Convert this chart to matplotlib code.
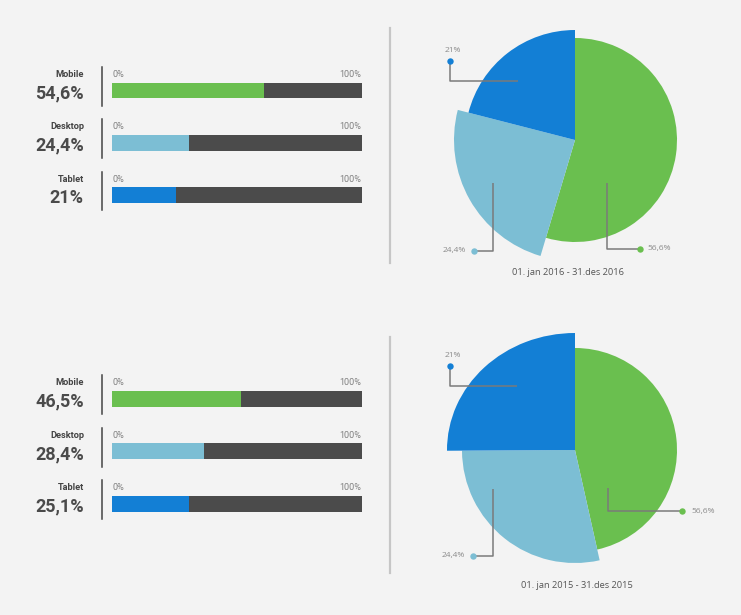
import matplotlib
matplotlib.use("Agg")
import matplotlib.pyplot as plt
from matplotlib.transforms import Affine2D

W, H = 741, 615
BG = "#f3f3f3"
VERT = "#6abf4f"
LYSBLA = "#7cbed4"
BLA = "#137fd5"
MORK = "#4b4b4b"

# Données
kategorier = ["Mobile", "Desktop", "Tablet"]
etiketter_2016 = ["54,6%", "24,4%", "21%"]
etiketter_2015 = ["46,5%", "28,4%", "25,1%"]
# longueur remplie des barres (en %)
remplissage_2016 = [61.0, 30.7, 25.7]
remplissage_2015 = [51.6, 36.8, 30.8]
# parts du camembert (sens horaire depuis le haut)
parts_2016 = [54.6, 24.4, 21.0]
parts_2015 = [46.5, 28.4, 25.1]
# rayons (x, y) de chaque part, en pixels
rayons_2016 = [(102, 102), (121, 121), (110, 110)]
rayons_2015 = [(102, 102), (113, 113), (128, 117)]
etiquettes_camembert = ["56,6%", "24,4%", "21%"]
periode_2016 = "01. jan 2016 - 31.des 2016"
periode_2015 = "01. jan 2015 - 31.des 2015"
couleurs = [VERT, LYSBLA, BLA]


def rect(x0, y0, x1, y1):
    """Rectangle en pixels (origine en haut à gauche) -> coordonnées figure"""
    return [x0 / W, 1 - y1 / H, (x1 - x0) / W, (y1 - y0) / H]


fig = plt.figure(figsize=(W / 100, H / 100), dpi=100)
fig.patch.set_facecolor(BG)

# Lignes de séparation verticales
fond = fig.add_axes([0, 0, 1, 1])
fond.set_xlim(0, W)
fond.set_ylim(H, 0)
fond.axis("off")
fond.plot([390, 390], [28, 263], color="#c6c6c6", lw=1.6)
fond.plot([390, 390], [337, 573], color="#c6c6c6", lw=1.6)


def tracer_barres(centre_y, etiquettes, remplissage):
    pas = 52.4
    ax = fig.add_axes(rect(112.3, centre_y - pas / 2, 361.6, centre_y + 2 * pas + pas / 2))
    ax.set_xlim(0, 100)
    ax.set_ylim(2.5, -0.5)
    ax.axis("off")
    pos = range(len(kategorier))
    ax.barh(pos, [100] * 3, height=0.305, color=MORK, linewidth=0)
    ax.barh(pos, remplissage, height=0.305, color=couleurs, linewidth=0)
    for i, (cat, lab) in enumerate(zip(kategorier, etiquettes)):
        ax.text(0, i - 0.31, "0%", ha="left", va="center", fontsize=6.5,
                color="#808080", family="Roboto")
        ax.text(100, i - 0.31, "100%", ha="right", va="center", fontsize=6.5,
                color="#808080", family="Roboto")
        ax.text(-11.35, i - 0.31, cat, ha="right", va="center", fontsize=6.7,
                fontweight="bold", color="#444444", family="Roboto")
        ax.text(-11.5, i + 0.05, lab, ha="right", va="center", fontsize=13,
                fontweight="bold", color="#4a4a4a", family="Roboto")
        ax.plot([-4.0, -4.0], [i - 0.45, i + 0.29], color="#444444", lw=1.1,
                clip_on=False)


def tracer_camembert(cx, cy, parts, rayons, reperes, titre, titre_xy):
    ax = fig.add_axes(rect(cx - 160, cy - 160, cx + 160, cy + 160))
    for i in range(len(parts)):
        cols = [c if j == i else "none" for j, c in enumerate(couleurs)]
        parts_i, _ = ax.pie(parts, colors=cols, radius=1, startangle=90,
                            counterclock=False, wedgeprops={"linewidth": 0})
        # chaque part a son propre rayon (légèrement ovale pour certaines)
        for p in parts_i:
            p.set_transform(Affine2D().scale(*rayons[i]) + ax.transData)
    ax.set_xlim(-160, 160)
    ax.set_ylim(-160, 160)
    ax.set_aspect("equal")
    ax.axis("off")
    for i, (pts, txt, ha, dx, dy) in enumerate(reperes):
        xs = [p[0] for p in pts]
        ys = [p[1] for p in pts]
        ax.plot(xs, ys, color="#7a7a7a", lw=1.1, solid_capstyle="butt")
        ax.plot(xs[0], ys[0], "o", color=couleurs[i], ms=4.6, mec="none")
        ax.text(xs[0] + dx, ys[0] + dy, etiquettes_camembert[i], ha=ha, va="center",
                fontsize=6.0, color="#8a8a8a", family="Open Sans")
    ax.text(titre_xy[0] - cx, cy - titre_xy[1], titre, ha="center", va="center",
            fontsize=6.7, color="#555555", family="Open Sans", clip_on=False)


tracer_barres(90.5, etiketter_2016, remplissage_2016)
tracer_barres(399.0, etiketter_2015, remplissage_2015)

# Lignes de repère : (points depuis la pastille, texte, alignement, décalage)
reperes_2016 = [
    ([(65, -109), (32, -109), (32, -43)], "56,6%", "left", 7, 0),
    ([(-101, -111), (-82, -111), (-82, -43)], "24,4%", "right", -8, 0),
    ([(-125, 79), (-125, 59), (-57, 59)], "21%", "center", 3, 10),
]
reperes_2015 = [
    ([(107, -61), (33, -61), (33, -38)], "56,6%", "left", 9, 0),
    ([(-102, -106), (-82, -106), (-82, -39)], "24,4%", "right", -8, 0),
    ([(-125, 84), (-125, 64), (-58, 64)], "21%", "center", 3, 10),
]
tracer_camembert(575, 140, parts_2016, rayons_2016, reperes_2016, periode_2016, (568, 273))
tracer_camembert(575, 450, parts_2015, rayons_2015, reperes_2015, periode_2015, (577, 585))

fig.savefig("out.png", dpi=100, facecolor=BG)
